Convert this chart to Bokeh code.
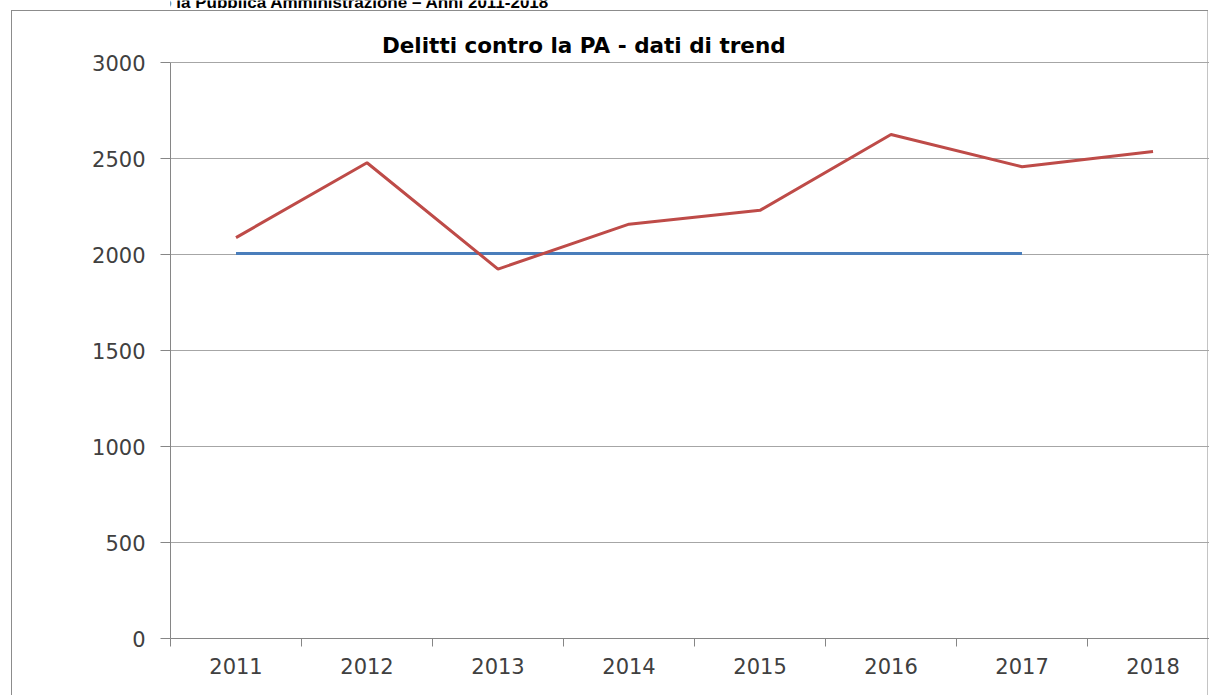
from bokeh.plotting import figure
from bokeh.models import FixedTicker, Range1d
from bokeh.core.properties import value
from bokeh.embed import file_html
from bokeh.resources import INLINE

# ---- data ----
years = ["2011", "2012", "2013", "2014", "2015", "2016", "2017", "2018"]
delitti = [2088, 2478, 1924, 2158, 2230, 2625, 2457, 2536]
trend_years = ["2011", "2012", "2013", "2014", "2015", "2016", "2017"]
trend = [2005, 2005, 2005, 2005, 2005, 2005, 2005]
y_ticks = [0, 500, 1000, 1500, 2000, 2500, 3000]
chart_title = "Delitti  contro la PA - dati di trend"
heading = "Fig. 2 \u2013 Delitti contro la Pubblica Amministrazione \u2013 Anni 2011-2018"

x_pos = {y: i for i, y in enumerate(years)}
xs_red = [x_pos[y] for y in years]
xs_blue = [x_pos[y] for y in trend_years]

# ---- layout (canvas pixels) ----
W, H = 1209, 695
FL, FB = 170, 57                  # frame left / bottom border
FBOT = H - FB                     # frame bottom y (from top)
AXIS_TOP = 62                     # pixel row of the 3000 line
X0, X1 = -0.5, 7.431
YMAX = y_ticks[-1]
PX_PER_Y = (FBOT - AXIS_TOP) / YMAX
PX_PER_X = (W - FL) / (X1 - X0)


def dx(cx):
    return X0 + (cx - FL) / PX_PER_X


def dy(cy):
    return (FBOT - cy) / PX_PER_Y


BORDER = "#8c8c8c"
css = {
    "background-color": "white",
    "background-image": (f"linear-gradient({BORDER}, {BORDER}), "
                         f"linear-gradient({BORDER}, {BORDER}), "
                         "linear-gradient(#c4c4c4, #c4c4c4)"),
    "background-position": "11px 10px, 11px 10px, 1207px 10px",
    "background-size": "1px 685px, 1197px 1px, 1px 685px",
    "background-repeat": "no-repeat, no-repeat, no-repeat",
}

p = figure(width=W, height=H, output_backend="svg", toolbar_location=None,
           title=None,
           x_range=Range1d(X0, X1), y_range=Range1d(0, dy(0)),
           min_border_left=FL, min_border_right=0, min_border_top=0,
           min_border_bottom=FB, background_fill_color=None,
           border_fill_color=None, styles=css)
p.outline_line_color = None

AX = "#868686"
# y axis
p.yaxis.ticker = FixedTicker(ticks=y_ticks)
p.yaxis.bounds = (0, YMAX)
p.yaxis.axis_line_color = AX
p.yaxis.major_tick_line_color = AX
p.yaxis.major_tick_out = 10
p.yaxis.major_tick_in = 0
p.yaxis.minor_tick_line_color = None
p.yaxis.major_label_standoff = 15
p.yaxis.major_label_text_font = "DejaVu Sans"
p.yaxis.major_label_text_font_size = "21px"
p.yaxis.major_label_text_color = "#404040"

# x axis
p.xaxis.ticker = FixedTicker(ticks=xs_red,
                             minor_ticks=[i - 0.5 for i in range(len(years) + 1)])
p.xaxis.major_label_overrides = {i: y for i, y in enumerate(years)}
p.xaxis.axis_line_color = AX
p.xaxis.major_tick_line_color = None
p.xaxis.major_tick_out = 0
p.xaxis.major_tick_in = 0
p.xaxis.minor_tick_line_color = AX
p.xaxis.minor_tick_out = 8
p.xaxis.minor_tick_in = 0
p.xaxis.major_label_standoff = 11
p.xaxis.major_label_text_font = "DejaVu Sans"
p.xaxis.major_label_text_font_size = "21px"
p.xaxis.major_label_text_color = "#404040"

p.xgrid.grid_line_color = None
p.ygrid.ticker = FixedTicker(ticks=y_ticks)
p.ygrid.grid_line_color = "#a6a6a6"
p.ygrid.grid_line_width = 1

p.line(xs_blue, trend, line_color="#4A7EBB", line_width=3)
p.line(xs_red, delitti, line_color="#BE4B48", line_width=3)

# chart title and (cropped) figure heading
p.text(x=[dx(587)], y=[dy(45)], text=[chart_title],
       text_align="center", text_baseline="alphabetic",
       text_font=value("DejaVu Sans"), text_font_style="bold",
       text_font_size=value("21.5px"), text_color="#000000")
p.text(x=[dx(3)], y=[dy(2)], text=[heading],
       text_align="left", text_baseline="alphabetic",
       text_font=value("Liberation Sans"), text_font_style="bold",
       text_font_size=value("17px"), text_color="#000000")

open("out.html", "w").write(file_html(p, INLINE))
